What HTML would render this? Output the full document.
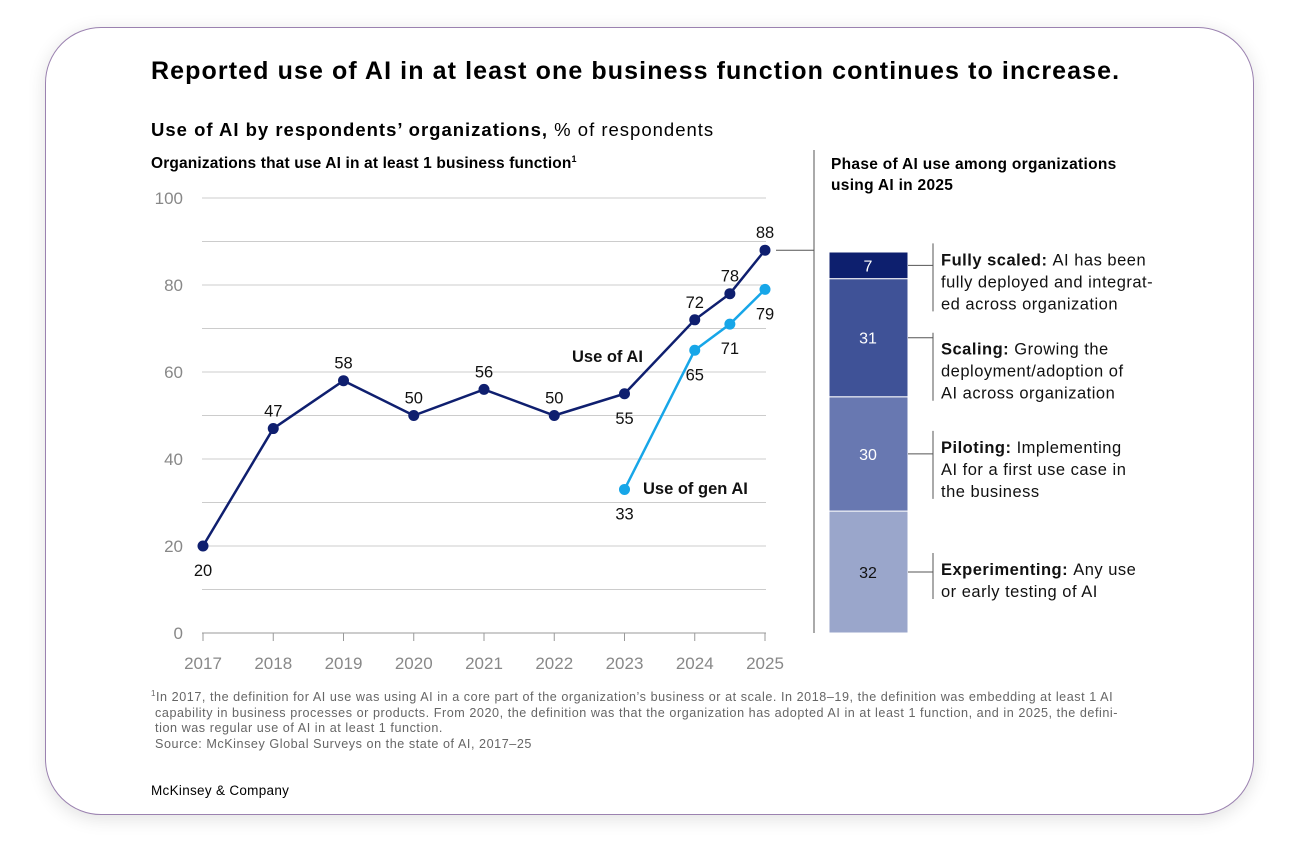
<!DOCTYPE html>
<html><head><meta charset="utf-8"><style>
body{margin:0;width:1300px;height:860px;background:#fff;font-family:"Liberation Sans",sans-serif;overflow:hidden}
#card{position:absolute;left:45px;top:27px;width:1207px;height:786px;border:1px solid #9b82b0;border-radius:56px;box-shadow:0 4px 18px rgba(0,0,0,0.12);background:#fff}
.t{position:absolute;color:#000;white-space:nowrap}
</style></head><body>
<div id="card"></div>
<div class="t" style="left:151px;top:57px;font-size:25px;font-weight:bold;letter-spacing:1.1px">Reported use of AI in at least one business function continues to increase.</div>
<div class="t" style="left:151px;top:119px;font-size:18.5px;letter-spacing:1px"><b>Use of AI by respondents’ organizations,</b> % of respondents</div>
<div class="t" style="left:151px;top:154px;font-size:15.5px;font-weight:bold;letter-spacing:0.15px">Organizations that use AI in at least 1 business function<sup style="font-size:9px">1</sup></div>
<div class="t" style="left:831px;top:154px;font-size:15.5px;font-weight:bold;line-height:21px;letter-spacing:0.3px">Phase of AI use among organizations<br>using AI in 2025</div>
<svg id="chart" width="1300" height="860" style="position:absolute;left:0;top:0"></svg>
<div class="t" style="left:151px;top:686px;font-size:12.6px;color:#666;line-height:15.5px;letter-spacing:0.55px"><sup style="font-size:8px">1</sup>In 2017, the definition for AI use was using AI in a core part of the organization’s business or at scale. In 2018–19, the definition was embedding at least 1 AI<br>&nbsp;capability in business processes or products. From 2020, the definition was that the organization has adopted AI in at least 1 function, and in 2025, the defini-<br>&nbsp;tion was regular use of AI in at least 1 function.<br>&nbsp;Source: McKinsey Global Surveys on the state of AI, 2017–25</div>
<div class="t" style="left:151px;top:783px;font-size:13.5px;letter-spacing:0.3px">McKinsey &amp; Company</div>
<script>
const years=["2017","2018","2019","2020","2021","2022","2023","2024","2025"];
const aiX=[2017,2018,2019,2020,2021,2022,2023,2024,2024.5,2025];
const aiVals=[20,47,58,50,56,50,55,72,78,88];
const genX=[2023,2024,2024.5,2025];
const genVals=[33,65,71,79];
const yTicks=[0,20,40,60,80,100];
const phaseLabels=["Experimenting","Piloting","Scaling","Fully scaled"];
const phaseVals=[32,30,31,7];
const phaseDesc=[["Any use","or early testing of AI"],["Implementing","AI for a first use case in","the business"],["Growing the","deployment/adoption of","AI across organization"],["AI has been","fully deployed and integrat-","ed across organization"]];
const phaseColors=["#9aa6cb","#6878b1","#3f5297","#0d1f6e"];
const textShift=[9,16,34,17];
const svg=document.getElementById('chart');const NS="http://www.w3.org/2000/svg";
const X=v=>203+(v-2017)*70.25, Y=v=>633-v*4.35, BY=v=>633-v*3.81;
function el(tag,attrs,txt){const e=document.createElementNS(NS,tag);for(const k in attrs)e.setAttribute(k,attrs[k]);if(txt!=null)e.textContent=txt;svg.appendChild(e);return e;}
for(let v=0;v<=100;v+=10){const g=el('line',{x1:202,x2:766,y1:Y(v),y2:Y(v),stroke:v===0?'#999':'#ccc','stroke-width':1});

}
yTicks.forEach(v=>{const t=el('text',{x:183,y:Y(v)+6,'text-anchor':'end','font-size':17,fill:'#888','font-family':'Liberation Sans'},v);

});
years.forEach(y=>{const yr=+y;const tk=el('line',{x1:X(yr),x2:X(yr),y1:633,y2:641,stroke:'#999'});


const t=el('text',{x:X(yr),y:669,'text-anchor':'middle','font-size':17,fill:'#888','font-family':'Liberation Sans'},y);

});
function series(xs,vs,color,name,below){
const p=el('polyline',{points:xs.map((x,i)=>X(x)+','+Y(vs[i])).join(' '),fill:'none',stroke:color,'stroke-width':2.5});


xs.forEach((x,i)=>{const c=el('circle',{cx:X(x),cy:Y(vs[i]),r:5.5,fill:color});


const b=below(i);const t=el('text',{x:X(x),y:b?Y(vs[i])+30:Y(vs[i])-12,'text-anchor':'middle','font-size':16.5,fill:'#111','font-family':'Liberation Sans'},vs[i]);

});}
series(aiX,aiVals,'#0f1f6f','ai-use',i=>i===0||i===6);
series(genX,genVals,'#17a6e8','gen-ai-use',i=>true);
const l1=el('text',{x:572,y:362,'font-size':16.5,'font-weight':'bold',fill:'#111','font-family':'Liberation Sans'},'Use of AI');


const l2=el('text',{x:643,y:494,'font-size':16.5,'font-weight':'bold',fill:'#111','font-family':'Liberation Sans'},'Use of gen AI');


const dv=el('line',{x1:814,x2:814,y1:150,y2:633,stroke:'#555'});


const cn=el('line',{x1:776,x2:814,y1:Y(aiVals[aiVals.length-1]),y2:Y(aiVals[aiVals.length-1]),stroke:'#555'});


let cum=0;
phaseVals.forEach((v,i)=>{const y0=BY(cum),y1=BY(cum+v);cum+=v;
const r=el('rect',{x:829,y:y1,width:79,height:y0-y1,fill:phaseColors[i],stroke:'#fff','stroke-width':1});


const mid=(y0+y1)/2;
const t=el('text',{x:868,y:mid+6,'text-anchor':'middle','font-size':16,fill:i===0?'#111':'#fff','font-family':'Liberation Sans'},v);


const lines=phaseDesc[i];const n=lines.length;const top=mid-(n*22)/2+textShift[i];
const h=el('line',{x1:908,x2:933,y1:mid,y2:mid,stroke:'#555'});


const vl=el('line',{x1:933,x2:933,y1:top-6,y2:top+n*22-4,stroke:'#555'});


lines.forEach((s,j)=>{const tx=el('text',{x:941,y:top+16+j*22,'font-size':16.5,fill:'#111','font-family':'Liberation Sans','letter-spacing':0.5});


if(j===0){const b=document.createElementNS(NS,'tspan');b.setAttribute('font-weight','bold');b.textContent=phaseLabels[i]+': ';tx.appendChild(b);}
tx.appendChild(document.createTextNode(s));});
});
</script>
</body></html>
